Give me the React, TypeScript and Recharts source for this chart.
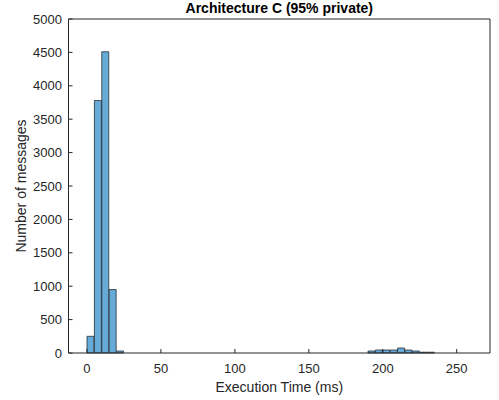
import { ComposedChart, Bar, XAxis, YAxis } from 'recharts'

// histogram bins (left edge, width 5 ms) and counts
const BIN_WIDTH = 5
const binStarts = [0, 5, 10, 15, 20, 190, 195, 200, 205, 210, 215, 220, 225, 230]
const counts = [250, 3780, 4510, 950, 30, 30, 45, 45, 45, 75, 45, 30, 12, 12]

const xTicks = [0, 50, 100, 150, 200, 250]
const yTicks = [0, 500, 1000, 1500, 2000, 2500, 3000, 3500, 4000, 4500, 5000]

const data = binStarts.map((start, i) => ({
  center: start + BIN_WIDTH / 2,
  count: counts[i],
}))

const AXIS_COLOR = '#262626'
const FONT = 'Arial, "Liberation Sans", Helvetica, sans-serif'
const tickStyle = { fontSize: 13, fill: AXIS_COLOR, fontFamily: FONT }

export default function App() {
  return (
    <div style={{ position: 'relative', width: 499, height: 400 }}>
      <style>{'body{margin:0}'}</style>
      <ComposedChart
        width={499}
        height={400}
        data={data}
        margin={{ top: 0, right: 0, bottom: 0, left: 0 }}
        barCategoryGap={0}
        barGap={0}
      >
        <XAxis
          dataKey="center"
          type="number"
          domain={[-12.5, 272.5]}
          allowDataOverflow
          ticks={xTicks}
          height={47}
          tickSize={-4}
          tickMargin={15}
          tick={tickStyle}
          stroke={AXIS_COLOR}
        />
        <XAxis
          xAxisId="top"
          orientation="top"
          type="number"
          domain={[-12.5, 272.5]}
          allowDataOverflow
          ticks={xTicks}
          height={19}
          tickSize={-4}
          tick={false}
          stroke={AXIS_COLOR}
        />
        <YAxis
          type="number"
          domain={[0, 5000]}
          ticks={yTicks}
          width={68.5}
          tickSize={-4}
          tickMargin={10.5}
          tick={tickStyle}
          stroke={AXIS_COLOR}
        />
        <YAxis
          yAxisId="right"
          orientation="right"
          type="number"
          domain={[0, 5000]}
          ticks={yTicks}
          width={9}
          tickSize={-4}
          tick={false}
          stroke={AXIS_COLOR}
        />
        <Bar
          dataKey="count"
          fill="#66AAD7"
          stroke="#1a1a1a"
          strokeWidth={0.7}
          isAnimationActive={false}
        />
      </ComposedChart>
      <svg
        width={499}
        height={400}
        style={{ position: 'absolute', left: 0, top: 0, pointerEvents: 'none' }}
      >
        <text
          x={279.3}
          y={12.7}
          textAnchor="middle"
          fontFamily={FONT}
          fontSize={14}
          fontWeight="bold"
          fill="#000"
        >
          Architecture C (95% private)
        </text>
        <text
          x={279.3}
          y={391.5}
          textAnchor="middle"
          fontFamily={FONT}
          fontSize={14}
          fill={AXIS_COLOR}
        >
          Execution Time (ms)
        </text>
        <text
          x={26}
          y={186}
          textAnchor="middle"
          transform="rotate(-90 26 186)"
          fontFamily={FONT}
          fontSize={14}
          fill={AXIS_COLOR}
        >
          Number of messages
        </text>
      </svg>
    </div>
  )
}
